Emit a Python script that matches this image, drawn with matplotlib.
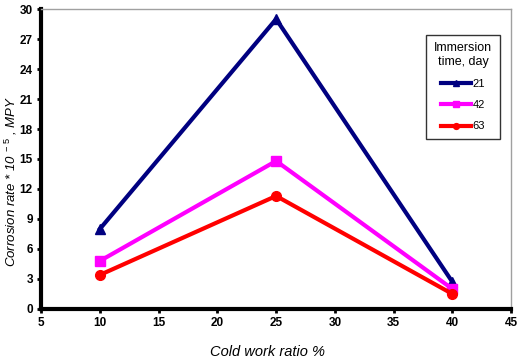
import matplotlib
matplotlib.use("Agg")
import matplotlib.pyplot as plt

plt.rcParams['font.family'] = ['Liberation Sans', 'DejaVu Sans']
plt.rcParams['mathtext.fontset'] = 'custom'
plt.rcParams['mathtext.rm'] = 'Liberation Sans'
plt.rcParams['mathtext.it'] = 'Liberation Sans:italic'

cold_work = [10, 25, 40]
rate_21 = [8.0, 29.0, 2.7]
rate_42 = [4.8, 14.8, 2.0]
rate_63 = [3.4, 11.3, 1.5]
series_labels = ['21', '42', '63']
x_ticks = [5, 10, 15, 20, 25, 30, 35, 40, 45]
y_ticks = [0, 3, 6, 9, 12, 15, 18, 21, 24, 27, 30]

fig = plt.figure(figsize=(5.21, 3.63), dpi=100)
ax = fig.add_axes([0.079, 0.149, 0.902, 0.826])

ax.plot(cold_work, rate_21, color='#000080', lw=3, marker='^', ms=7, label=series_labels[0])
ax.plot(cold_work, rate_42, color='#FF00FF', lw=3, marker='s', ms=7, label=series_labels[1])
ax.plot(cold_work, rate_63, color='#FF0000', lw=3, marker='o', ms=7, label=series_labels[2])

ax.set_xlim(5, 45)
ax.set_ylim(0, 30)
ax.set_xticks(x_ticks)
ax.set_yticks(y_ticks)
for lab in ax.get_xticklabels() + ax.get_yticklabels():
    lab.set_fontweight('bold')
    lab.set_fontsize(8.5)
ax.tick_params(axis='both', direction='out', length=3, width=2, pad=3)

for s in ['left', 'bottom']:
    ax.spines[s].set_linewidth(3)
    ax.spines[s].set_color('black')
for s in ['right', 'top']:
    ax.spines[s].set_linewidth(1)
    ax.spines[s].set_color('#a0a0a0')

ax.set_xlabel('Cold work ratio %', fontsize=10.5, style='italic')
ax.xaxis.set_label_coords(268 / 521, 1 - 352 / 363, transform=fig.transFigure)
ax.xaxis.label.set_verticalalignment('center')
ax.set_ylabel(r'Corrosion rate * 10 $^{\mathit{-\ 5}}$ , MPY', fontsize=9.5, style='italic')
ax.yaxis.set_label_coords(11 / 521, 1 - 181 / 363, transform=fig.transFigure)
ax.yaxis.label.set_verticalalignment('center')

leg = ax.legend(title='Immersion\ntime, day', loc='upper right', bbox_to_anchor=(0.976, 0.915),
                fontsize=8, title_fontsize=9, frameon=True, fancybox=False,
                handlelength=2.7, markerscale=0.6, labelspacing=1.0, handletextpad=0.1,
                borderpad=0.7, borderaxespad=0.0)
leg.get_frame().set_edgecolor('black')
leg.get_frame().set_linewidth(1)
leg.get_title().set_multialignment('center')

fig.savefig('out.png', dpi=100)
